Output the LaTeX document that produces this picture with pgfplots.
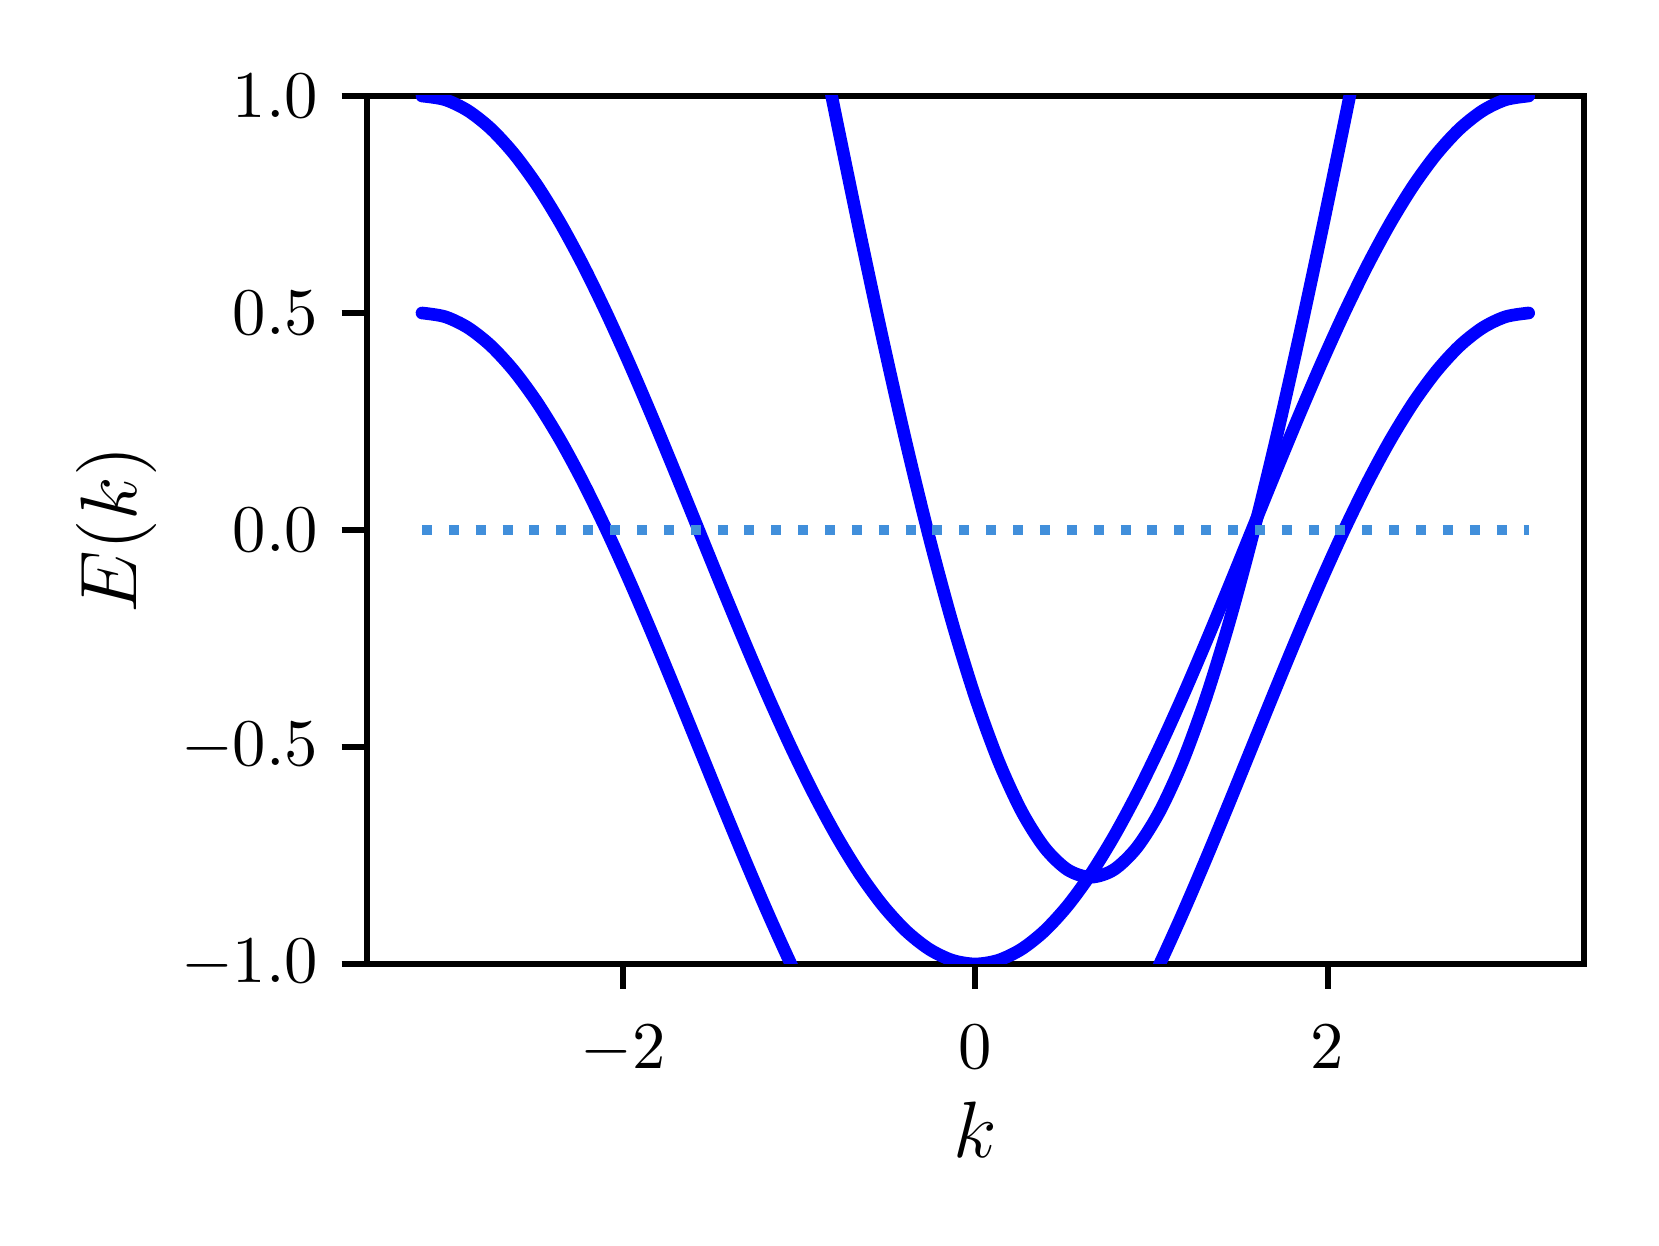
\documentclass[border=0pt]{standalone}
\usepackage{pgfplots}
\pgfplotsset{compat=1.18}
\definecolor{bandblue}{RGB}{0,0,255}
\definecolor{fermiblue}{RGB}{65,143,219}

\begin{document}
\begin{tikzpicture}
\begin{axis}[
  scale only axis,
  width=182.6pt, height=130.2pt,
  xmin=-3.4558, xmax=3.4558,
  ymin=-1, ymax=1,
  xtick={-2,0,2},
  ytick={-1,-0.5,0,0.5,1},
  yticklabel style={/pgf/number format/.cd,fixed,fixed zerofill,precision=1},
  tick align=outside,
  xtick pos=bottom, ytick pos=left,
  major tick length=3.75pt,
  every tick/.style={black, line width=0.9pt},
  axis line style={line width=0.9pt},
  xticklabel shift=2pt,
  label style={font=\fontsize{12.9}{15}\selectfont},
  xlabel={$k$}, ylabel={$E(k)$},
  xlabel style={at={(axis description cs:0.5,-0.2227)}, anchor=base},
  ylabel style={at={(axis description cs:-0.189,0.5)}, anchor=base},
]
% band 1: E = -cos k
\addplot[bandblue, line width=1.9pt, line cap=round, smooth] coordinates {
(-3.1416,1) (-3.0107,0.9914) (-2.8798,0.9659) (-2.7489,0.9239) (-2.6180,0.8660)
(-2.4871,0.7934) (-2.3562,0.7071) (-2.2253,0.6088) (-2.0944,0.5) (-1.9635,0.3827)
(-1.8326,0.2588) (-1.7017,0.1305) (-1.5708,0) (-1.4399,-0.1305) (-1.3090,-0.2588)
(-1.1781,-0.3827) (-1.0472,-0.5) (-0.9163,-0.6088) (-0.7854,-0.7071) (-0.6545,-0.7934)
(-0.5236,-0.8660) (-0.3927,-0.9239) (-0.2618,-0.9659) (-0.1309,-0.9914) (0,-1)
(0.1309,-0.9914) (0.2618,-0.9659) (0.3927,-0.9239) (0.5236,-0.8660) (0.6545,-0.7934)
(0.7854,-0.7071) (0.9163,-0.6088) (1.0472,-0.5) (1.1781,-0.3827) (1.3090,-0.2588)
(1.4399,-0.1305) (1.5708,0) (1.7017,0.1305) (1.8326,0.2588) (1.9635,0.3827)
(2.0944,0.5) (2.2253,0.6088) (2.3562,0.7071) (2.4871,0.7934) (2.6180,0.8660)
(2.7489,0.9239) (2.8798,0.9659) (3.0107,0.9914) (3.1416,1)
};
% band 2: E = -cos k - 0.5
\addplot[bandblue, line width=1.9pt, line cap=round, smooth] coordinates {
(-3.1416,0.5) (-3.0107,0.4914) (-2.8798,0.4659) (-2.7489,0.4239) (-2.6180,0.3660)
(-2.4871,0.2934) (-2.3562,0.2071) (-2.2253,0.1088) (-2.0944,0) (-1.9635,-0.1173)
(-1.8326,-0.2412) (-1.7017,-0.3695) (-1.5708,-0.5) (-1.4399,-0.6305) (-1.3090,-0.7588)
(-1.1781,-0.8827) (-1.0472,-1) (-0.9163,-1.1088) (-0.7854,-1.2071) (-0.6545,-1.2934)
(-0.5236,-1.3660) (-0.3927,-1.4239) (-0.2618,-1.4659) (-0.1309,-1.4914) (0,-1.5)
(0.1309,-1.4914) (0.2618,-1.4659) (0.3927,-1.4239) (0.5236,-1.3660) (0.6545,-1.2934)
(0.7854,-1.2071) (0.9163,-1.1088) (1.0472,-1) (1.1781,-0.8827) (1.3090,-0.7588)
(1.4399,-0.6305) (1.5708,-0.5) (1.7017,-0.3695) (1.8326,-0.2412) (1.9635,-0.1173)
(2.0944,0) (2.2253,0.1088) (2.3562,0.2071) (2.4871,0.2934) (2.6180,0.3660)
(2.7489,0.4239) (2.8798,0.4659) (3.0107,0.4914) (3.1416,0.5)
};
% band 3: steep band with minimum near k = 0.655
\addplot[bandblue, line width=1.9pt, line cap=round, smooth] coordinates {
(-0.9158,1.2) (-0.7849,0.9389) (-0.6540,0.6824) (-0.5231,0.4346) (-0.3922,0.2)
(-0.2613,-0.0175) (-0.1304,-0.2142) (0.0005,-0.3867) (0.1314,-0.5321) (0.2623,-0.6478)
(0.3932,-0.7319) (0.5241,-0.7829) (0.6550,-0.8) (0.7859,-0.7829) (0.9168,-0.7319)
(1.0477,-0.6478) (1.1786,-0.5321) (1.3095,-0.3867) (1.4404,-0.2142) (1.5713,-0.0175)
(1.7022,0.2) (1.8331,0.4346) (1.9640,0.6824) (2.0949,0.9389) (2.2258,1.2)
};
% Fermi level
\addplot[fermiblue, line width=1.5pt, dash pattern=on 1.5pt off 2.53pt] coordinates {
(-3.1416,0) (3.1416,0)
};
\end{axis}
\path ([shift={(-55pt,-42.2pt)}]current axis.south west)
  rectangle ([shift={(11.25pt,14.4pt)}]current axis.north east);
\end{tikzpicture}
\end{document}
